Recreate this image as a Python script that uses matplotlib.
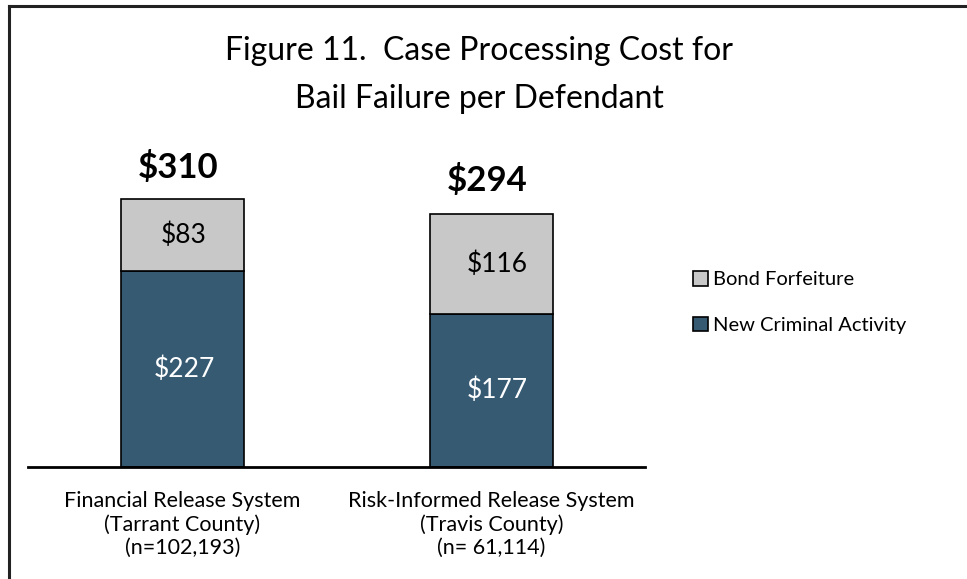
import matplotlib
matplotlib.use("Agg")
import matplotlib.pyplot as plt
from matplotlib.lines import Line2D
from matplotlib.patches import Patch
import numpy as np

plt.rcParams['font.family'] = ['Lato', 'DejaVu Sans']

categories = ["Financial Release System\n(Tarrant County)\n(n=102,193)",
              "Risk-Informed Release System\n(Travis County)\n(n= 61,114)"]
new_criminal = np.array([227, 177])
bond_forfeit = np.array([83, 116])
totals = np.array([310, 294])
series_names = ["Bond Forfeiture", "New Criminal Activity"]
title_lines = ["Figure 11.  Case Processing Cost for", "Bail Failure per Defendant"]

blue = '#375A73'
gray = '#C8C8C8'

W, H = 967, 579
fig = plt.figure(figsize=(W / 100, H / 100), dpi=100)

# axes placed in pixel terms: baseline at y=467, from x=28 to 645
ax = fig.add_axes([28 / W, (H - 467) / H, (645 - 28) / W, (467 - 150) / H])
x = np.arange(len(categories))
bw = 0.4
ax.bar(x, new_criminal, bw, color=blue, edgecolor='black', linewidth=1.2, zorder=2)
ax.bar(x, bond_forfeit, bw, bottom=new_criminal, color=gray, edgecolor='black', linewidth=1.2, zorder=2)

ax.set_xlim(-0.5, 1.497)
ax.set_ylim(0, 366.7)
for s in ['top', 'right', 'left']:
    ax.spines[s].set_visible(False)
ax.spines['bottom'].set_linewidth(2)
ax.set_yticks([])
ax.set_xticks(x, categories, fontsize=15.5, linespacing=1.2)
ax.tick_params(axis='x', length=0, pad=17)

offs = [0.005, 0.02]
for i in x:
    ax.text(i + offs[i], new_criminal[i] / 2, f"${new_criminal[i]}", ha='center', va='center',
            color='white', fontsize=19)
    ax.text(i + offs[i], new_criminal[i] + bond_forfeit[i] / 2, f"${bond_forfeit[i]}", ha='center',
            va='center', color='black', fontsize=19)
    ax.text(i - 0.015, totals[i] + 37, f"${totals[i]}", ha='center', va='center',
            fontsize=25, fontweight='bold')

handles = [Patch(facecolor=gray, edgecolor='black', linewidth=1.2),
           Patch(facecolor=blue, edgecolor='black', linewidth=1.2)]
fig.legend(handles, series_names, loc='upper left',
           bbox_to_anchor=(693 / W, 1 - 271 / H), frameon=False, fontsize=14.5,
           handlelength=0.75, handleheight=0.75, handletextpad=0.25,
           labelspacing=1.4, borderpad=0, borderaxespad=0)

# title, two centred lines; first line starts at x=225
t1 = fig.text(0, 1 - 60 / H, title_lines[0], fontsize=23, ha='center', va='baseline')
fig.canvas.draw()
w1 = t1.get_window_extent().width
cx = (225 + w1 / 2) / W
t1.set_x(cx)
fig.text(cx, 1 - 108 / H, title_lines[1], fontsize=23, ha='center', va='baseline')

# chart border (top and left visible)
fig.add_artist(Line2D([9 / W, 9 / W], [0, 1 - 6 / H], color='#222222', linewidth=2.2))
fig.add_artist(Line2D([9 / W, 1], [1 - 6 / H, 1 - 6 / H], color='#222222', linewidth=2.2))

fig.savefig("out.png", dpi=100)
